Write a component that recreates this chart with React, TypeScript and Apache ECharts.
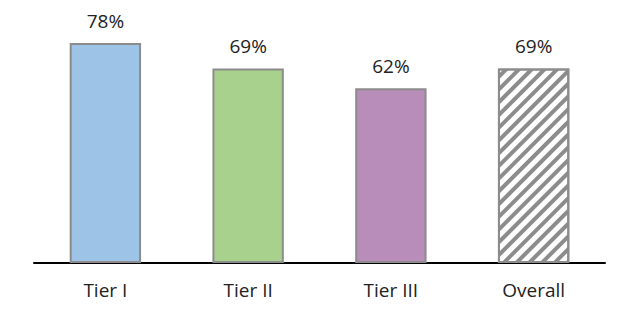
import React, { useEffect, useRef } from "react";
import * as echarts from "echarts";

const categories = ["Tier I", "Tier II", "Tier III", "Overall"];
const values = [78, 69, 62, 69];
const barColors = ["#9DC3E6", "#A9D18E", "#B98DBA", "#FFFFFF"];

export default function App() {
  const ref = useRef<HTMLDivElement>(null);
  useEffect(() => {
    if (!ref.current) return;
    const chart = echarts.init(ref.current, null, { renderer: "svg" });
    chart.setOption({
      animation: false,
      backgroundColor: "#FFFFFF",
      grid: { left: 34, right: 16, top: 37.4, bottom: 55 },
      xAxis: {
        type: "category",
        data: categories,
        axisLine: { lineStyle: { color: "#000000", width: 2 } },
        axisTick: { show: false },
        axisLabel: {
          color: "#222222",
          fontSize: 19,
          fontFamily: "Open Sans",
          margin: 17,
        },
      },
      yAxis: {
        type: "value",
        min: 0,
        max: 80,
        show: false,
        splitLine: { show: false },
      },
      series: [
        {
          type: "bar",
          barWidth: "50%",
          data: values.map((v, i) => ({
            value: v,
            itemStyle: {
              color: barColors[i],
              borderColor: "#8C8C8C",
              borderWidth: 2,
              decal:
                i === 3
                  ? {
                      symbol: "rect",
                      dashArrayX: [1, 0],
                      dashArrayY: [3.5, 5],
                      rotation: -Math.PI / 4,
                      color: "#8C8C8C",
                    }
                  : "none",
            },
          })),
          label: {
            show: true,
            position: "top",
            distance: 13,
            formatter: "{c}%",
            color: "#222222",
            fontSize: 19,
            fontFamily: "Open Sans",
          },
        },
      ],
    });
    return () => chart.dispose();
  }, []);
  return (
    <div
      ref={ref}
      style={{ position: "absolute", left: 0, top: 0, width: 621, height: 318 }}
    />
  );
}
